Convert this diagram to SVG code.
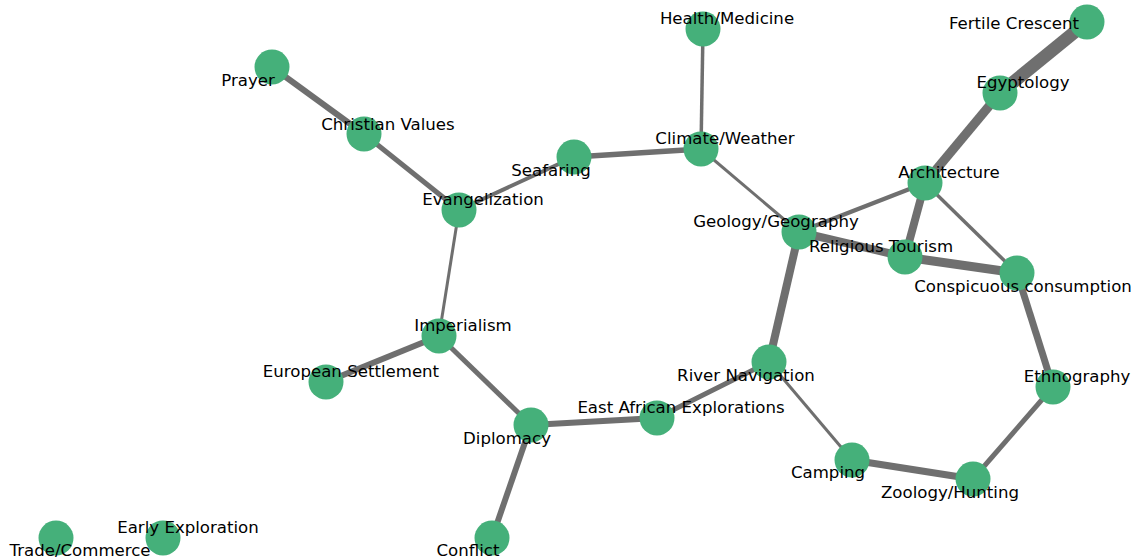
<svg xmlns="http://www.w3.org/2000/svg" width="1137" height="560" viewBox="0 0 1137 560">
<style>
.e{stroke:#6f6f6f;stroke-linecap:butt;fill:none}
.n{fill:#45b07a}
.t{font-family:"DejaVu Sans",sans-serif;font-size:16.6px;fill:#000;text-anchor:middle;dominant-baseline:central}
</style>
<rect width="1137" height="560" fill="#fff"/>
<g id="edges">
<line class="e" x1="1087" y1="22" x2="1000" y2="93" stroke-width="13"/>
<line class="e" x1="1000" y1="93" x2="925" y2="183" stroke-width="9"/>
<line class="e" x1="925" y1="183" x2="905" y2="257" stroke-width="8"/>
<line class="e" x1="925" y1="183" x2="799" y2="232" stroke-width="4.5"/>
<line class="e" x1="925" y1="183" x2="1017" y2="273" stroke-width="3.5"/>
<line class="e" x1="703" y1="29" x2="701" y2="149" stroke-width="3.5"/>
<line class="e" x1="701" y1="149" x2="574" y2="157" stroke-width="5.5"/>
<line class="e" x1="701" y1="149" x2="799" y2="232" stroke-width="3"/>
<line class="e" x1="574" y1="157" x2="459" y2="210" stroke-width="4"/>
<line class="e" x1="272" y1="67" x2="364" y2="134" stroke-width="6"/>
<line class="e" x1="364" y1="134" x2="459" y2="210" stroke-width="5"/>
<line class="e" x1="459" y1="210" x2="439" y2="336" stroke-width="3"/>
<line class="e" x1="439" y1="336" x2="326" y2="382" stroke-width="6"/>
<line class="e" x1="439" y1="336" x2="531" y2="425" stroke-width="5"/>
<line class="e" x1="531" y1="425" x2="657" y2="418" stroke-width="6"/>
<line class="e" x1="531" y1="425" x2="492" y2="538" stroke-width="6"/>
<line class="e" x1="657" y1="418" x2="769" y2="362" stroke-width="5"/>
<line class="e" x1="769" y1="362" x2="799" y2="232" stroke-width="8"/>
<line class="e" x1="769" y1="362" x2="852" y2="460" stroke-width="3"/>
<line class="e" x1="799" y1="232" x2="905" y2="257" stroke-width="8"/>
<line class="e" x1="905" y1="257" x2="1017" y2="273" stroke-width="9"/>
<line class="e" x1="1017" y1="273" x2="1053" y2="387" stroke-width="7"/>
<line class="e" x1="1053" y1="387" x2="973" y2="479" stroke-width="5"/>
<line class="e" x1="852" y1="460" x2="973" y2="479" stroke-width="7"/>
</g>
<g id="n-fertile-crescent"><circle class="n" cx="1087" cy="22" r="17.5"/><text class="t" x="1014" y="23">Fertile Crescent</text></g>
<g id="n-egyptology"><circle class="n" cx="1000" cy="93" r="17.5"/><text class="t" x="1023" y="82">Egyptology</text></g>
<g id="n-architecture"><circle class="n" cx="925" cy="183" r="17.5"/><text class="t" x="949" y="172">Architecture</text></g>
<g id="n-health"><circle class="n" cx="703" cy="29" r="17.5"/><text class="t" x="727" y="18">Health/Medicine</text></g>
<g id="n-climate"><circle class="n" cx="701" cy="149" r="17.5"/><text class="t" x="725" y="138">Climate/Weather</text></g>
<g id="n-seafaring"><circle class="n" cx="574" cy="157" r="17.5"/><text class="t" x="551" y="170">Seafaring</text></g>
<g id="n-prayer"><circle class="n" cx="272" cy="67" r="17.5"/><text class="t" x="248" y="80">Prayer</text></g>
<g id="n-christian-values"><circle class="n" cx="364" cy="134" r="17.5"/><text class="t" x="388" y="124">Christian Values</text></g>
<g id="n-evangelization"><circle class="n" cx="459" cy="210" r="17.5"/><text class="t" x="483" y="199">Evangelization</text></g>
<g id="n-geology"><circle class="n" cx="799" cy="232" r="17.5"/><text class="t" x="776" y="221">Geology/Geography</text></g>
<g id="n-religious-tourism"><circle class="n" cx="905" cy="257" r="17.5"/><text class="t" x="881" y="246">Religious Tourism</text></g>
<g id="n-conspicuous"><circle class="n" cx="1017" cy="273" r="17.5"/><text class="t" x="1023" y="286">Conspicuous consumption</text></g>
<g id="n-imperialism"><circle class="n" cx="439" cy="336" r="17.5"/><text class="t" x="463" y="325">Imperialism</text></g>
<g id="n-european-settlement"><circle class="n" cx="326" cy="382" r="17.5"/><text class="t" x="351" y="371">European Settlement</text></g>
<g id="n-river-navigation"><circle class="n" cx="769" cy="362" r="17.5"/><text class="t" x="746" y="375">River Navigation</text></g>
<g id="n-ethnography"><circle class="n" cx="1053" cy="387" r="17.5"/><text class="t" x="1077" y="376">Ethnography</text></g>
<g id="n-east-african"><circle class="n" cx="657" cy="418" r="17.5"/><text class="t" x="681" y="407">East African Explorations</text></g>
<g id="n-diplomacy"><circle class="n" cx="531" cy="425" r="17.5"/><text class="t" x="507" y="438">Diplomacy</text></g>
<g id="n-camping"><circle class="n" cx="852" cy="460" r="17.5"/><text class="t" x="828" y="472">Camping</text></g>
<g id="n-zoology"><circle class="n" cx="973" cy="479" r="17.5"/><text class="t" x="950" y="492">Zoology/Hunting</text></g>
<g id="n-conflict"><circle class="n" cx="492" cy="538" r="17.5"/><text class="t" x="468" y="550">Conflict</text></g>
<g id="n-early-exploration"><circle class="n" cx="163" cy="538" r="17.5"/><text class="t" x="188" y="527">Early Exploration</text></g>
<g id="n-trade"><circle class="n" cx="56" cy="538" r="17.5"/><text class="t" x="80" y="550">Trade/Commerce</text></g>
</svg>
